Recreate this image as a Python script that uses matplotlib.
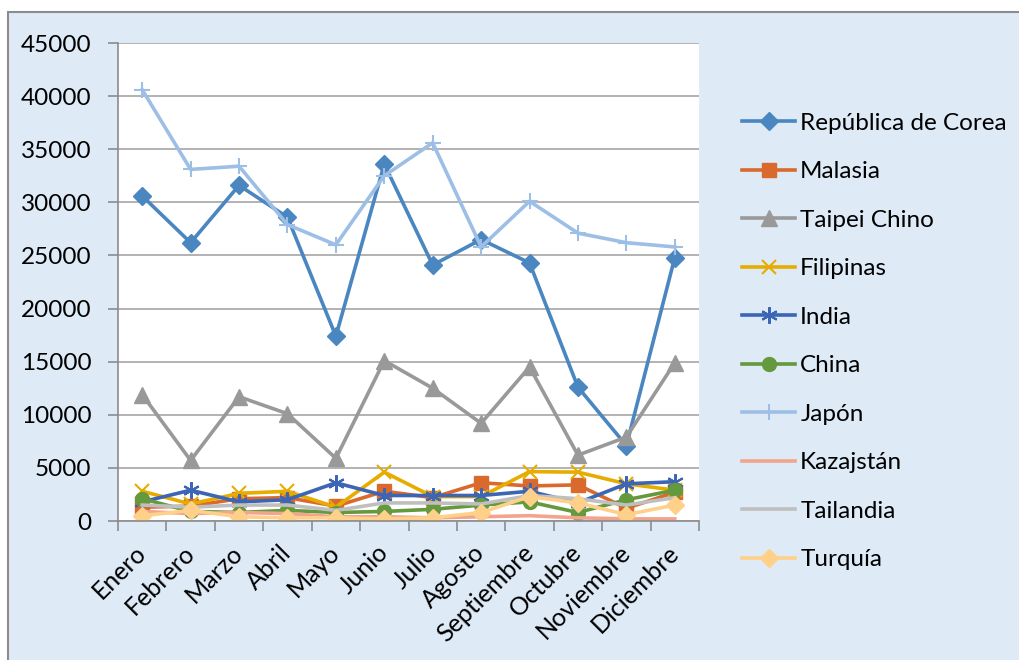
import matplotlib.pyplot as plt
import matplotlib.patches as patches
import numpy as np

plt.rcParams['font.family'] = ['Lato', 'DejaVu Sans']

meses = ["Enero", "Febrero", "Marzo", "Abril", "Mayo", "Junio", "Julio",
         "Agosto", "Septiembre", "Octubre", "Noviembre", "Diciembre"]

corea = [30600, 26200, 31600, 28600, 17400, 33600, 24100, 26500, 24300, 12600, 7100, 24800]
malasia = [1300, 1400, 2100, 2200, 1400, 2800, 2200, 3600, 3300, 3400, 1200, 2700]
taipei = [11900, 5700, 11700, 10100, 5900, 15100, 12500, 9200, 14500, 6200, 7900, 14900]
filipinas = [2800, 1600, 2600, 2800, 1300, 4600, 2300, 2300, 4650, 4600, 3500, 2900]
india = [1800, 2900, 1800, 2000, 3600, 2400, 2400, 2400, 2800, 1700, 3500, 3700]
china = [2100, 900, 800, 1000, 800, 900, 1100, 1500, 1800, 800, 2000, 2900]
japon = [40600, 33100, 33400, 27900, 26000, 32500, 35600, 25800, 30100, 27100, 26200, 25800]
kazajstan = [900, 700, 800, 700, 400, 400, 300, 400, 500, 300, 200, 200]
tailandia = [1500, 1300, 1500, 1500, 1000, 1700, 1700, 1600, 2400, 2100, 1500, 2200]
turquia = [500, 1000, 400, 300, 300, 200, 300, 800, 2300, 1700, 600, 1500]

series = [
    ("República de Corea", corea, "#4A86C0", "D", 9),
    ("Malasia", malasia, "#D9692C", "s", 10),
    ("Taipei Chino", taipei, "#999999", "^", 11),
    ("Filipinas", filipinas, "#E6AC00", "x", 10),
    ("India", india, "#3C66B5", (6, 2, 0), 12),
    ("China", china, "#64993D", "o", 10),
    ("Japón", japon, "#9EBFE5", "+", 11),
    ("Kazajstán", kazajstan, "#F2A58C", None, 0),
    ("Tailandia", tailandia, "#BFBFBF", None, 0),
    ("Turquía", turquia, "#FFD08A", "D", 9),
]

fig = plt.figure(figsize=(10.19, 6.60), dpi=100)
fig.patch.set_facecolor("white")
bg = patches.Rectangle((8 / 1019, -0.05), 1.1, 1 - 12 / 660 + 0.05,
                       transform=fig.transFigure, facecolor="#DEEAF6",
                       edgecolor="#8C8C8C", linewidth=1.5, zorder=-10)
fig.patches.append(bg)

ax = fig.add_axes([118 / 1019, 1 - 521 / 660, (699 - 118) / 1019, (521 - 43) / 660])
ax.set_zorder(1)
ax.set_facecolor("white")

x = np.arange(len(meses))
for name, vals, color, marker, ms in series:
    mew = 1.5 if marker in ("x", "+", (6, 2, 0)) else 1
    ax.plot(x, vals, color=color, linewidth=2.6, marker=marker, markersize=ms,
            markeredgewidth=mew, markeredgecolor=color, markerfacecolor=color,
            label=name, solid_joinstyle="round")

ax.set_xlim(-0.5, 11.5)
ax.set_ylim(0, 45000)
ax.set_yticks(np.arange(0, 45001, 5000))
ax.yaxis.grid(True, color="#A6A6A6", linewidth=1.2)
ax.set_axisbelow(True)

ax.set_xticks(x)
ax.set_xticklabels(meses, rotation=45, ha="right", va="center",
                   rotation_mode="anchor", fontsize=18)
ax.set_xticks(np.arange(-0.5, 12, 1), minor=True)
ax.tick_params(axis="x", which="major", length=0, pad=20)
ax.tick_params(axis="x", which="minor", length=7, color="#8C8C8C", width=1.2)
ax.tick_params(axis="y", length=7, color="#8C8C8C", width=1.2, labelsize=17.5, pad=12)

for s in ["top", "right"]:
    ax.spines[s].set_visible(False)
for s in ["left", "bottom"]:
    ax.spines[s].set_color("#8C8C8C")
    ax.spines[s].set_linewidth(1.2)

leg = fig.legend(loc="upper left", bbox_to_anchor=(720 / 1019, 1 - 91 / 660),
                 frameon=False, fontsize=17.5, handlelength=2.2, labelspacing=1.13,
                 handletextpad=0.2)

fig.savefig("out.png", dpi=100, facecolor=fig.get_facecolor())
